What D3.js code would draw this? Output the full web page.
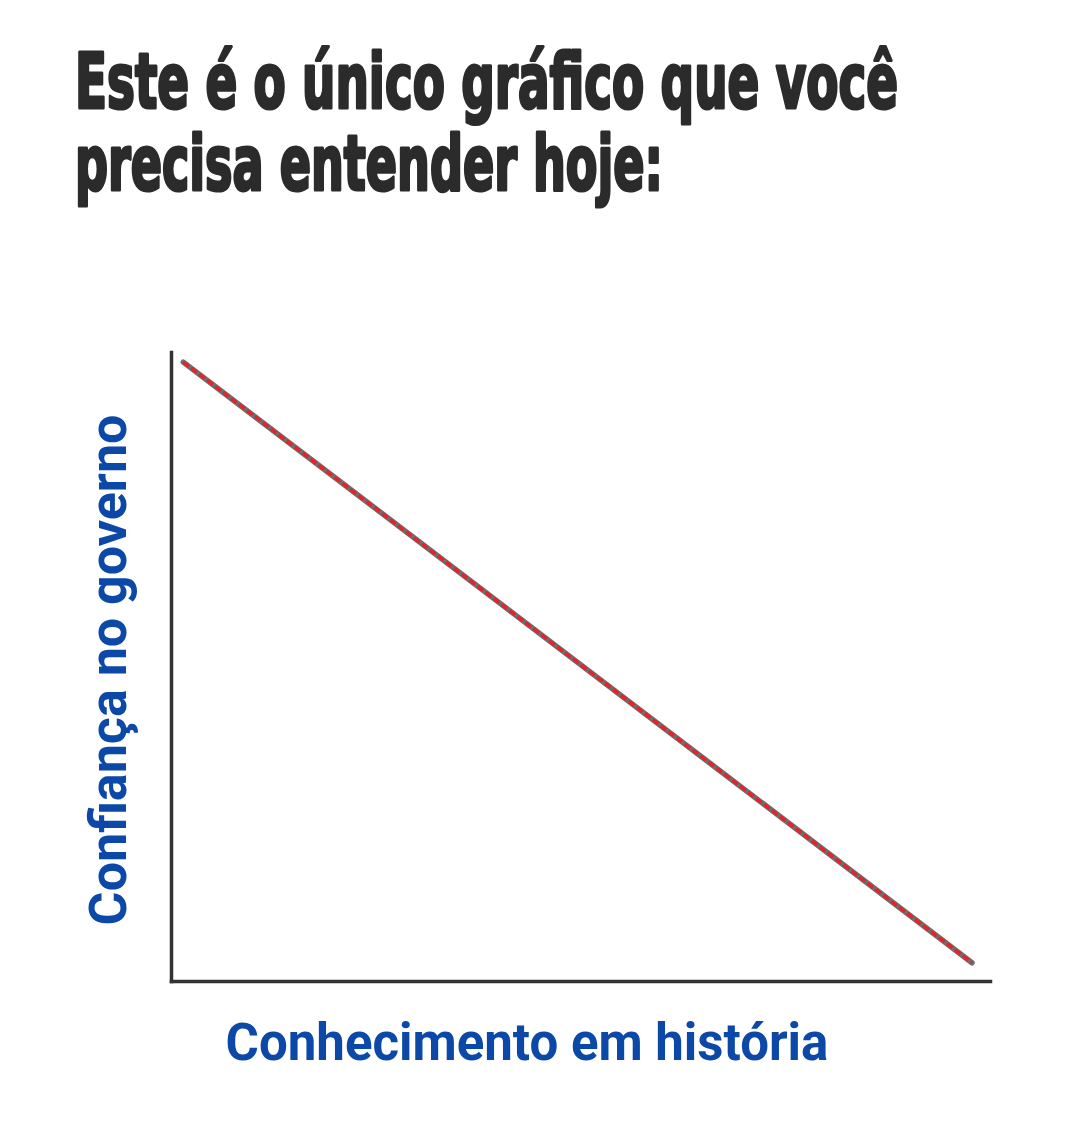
<!DOCTYPE html>
<html>
<head>
<meta http-equiv="Content-Type" content="text/html; charset=utf-8">
<script src="https://cdnjs.cloudflare.com/ajax/libs/d3/7.8.5/d3.min.js"></script>
<style>
  body { margin: 0; background: #fff; }
</style>
</head>
<body>
<div class="chart"></div>
<script type="text/javascript">

    // ------------------------------------------- DATA

    var titleLines = ["Este é o único gráfico que você", "precisa entender hoje:"];
    var xLabel = "Conhecimento em história";
    var yLabel = "Confiança no governo";

    // the one line: start and end
    var knowledge = [1.5, 97.8];
    var confidence = [98.4, 2.9];

    // ------------------------------------------- SVG

    var width = 1080;
    var height = 1136;

    var svg = d3.select("div.chart")
        .append("svg")
        .attr("width", width)
        .attr("height", height)
        .style("display", "block");

    svg.append("rect")
        .attr("width", width)
        .attr("height", height)
        .attr("fill", "#fff");

    // ------------------------------------------- TITLE

    var titleY = [108, 190];
    var titleW = [823, 588];

    titleLines.forEach(function(t, i) {
        svg.append("g")
            .attr("transform", "translate(75," + titleY[i] + ") scale(1,1.32)")
            .append("text")
            .attr("x", 0)
            .attr("y", 0)
            .attr("font-family", "'Liberation Sans Narrow', 'DejaVu Sans Condensed', sans-serif")
            .attr("font-weight", "bold")
            .attr("font-size", 58)
            .attr("fill", "#2b2b2b")
            .attr("stroke", "#2b2b2b")
            .attr("stroke-width", 2.4)
            .attr("stroke-linejoin", "round")
            .attr("textLength", titleW[i])
            .attr("lengthAdjust", "spacingAndGlyphs")
            .text(t);
    });

    // ------------------------------------------- SCALES AND AXES

    var x = d3.scaleLinear().domain([0, 100]).range([171, 990]);
    var y = d3.scaleLinear().domain([0, 100]).range([981, 352]);

    var axisStyle = function(g) {
        g.select(".domain")
            .attr("stroke", "#333")
            .attr("stroke-width", 3.5)
            .attr("stroke-linecap", "square");
        g.selectAll(".tick").remove();
    };

    svg.append("g")
        .attr("transform", "translate(0," + y(0) + ")")
        .call(d3.axisBottom(x).ticks(0).tickSizeOuter(0))
        .call(axisStyle);

    svg.append("g")
        .attr("transform", "translate(" + x(0) + ",0)")
        .call(d3.axisLeft(y).ticks(0).tickSizeOuter(0))
        .call(axisStyle);

    // ------------------------------------------- THE LINE

    var pts = knowledge.map(function(k, i) { return [k, confidence[i]]; });
    var line = d3.line()
        .x(function(d) { return x(d[0]); })
        .y(function(d) { return y(d[1]); });

    svg.append("path")
        .datum(pts)
        .attr("d", line)
        .attr("fill", "none")
        .attr("stroke", "#6e6e6e")
        .attr("stroke-width", 5.5)
        .attr("stroke-linecap", "round");

    svg.append("path")
        .datum(pts)
        .attr("d", line)
        .attr("fill", "none")
        .attr("stroke", "#e3242b")
        .attr("stroke-width", 3.5)
        .attr("stroke-dasharray", "7,3");

    // ------------------------------------------- LABELS

    svg.append("text")
        .attr("x", 527)
        .attr("y", 1060)
        .attr("text-anchor", "middle")
        .attr("font-family", "Roboto, sans-serif")
        .attr("font-weight", "bold")
        .attr("font-size", 51)
        .attr("fill", "#0b48a8")
        .text(xLabel);

    svg.append("text")
        .attr("transform", "translate(126,670) rotate(-90)")
        .attr("text-anchor", "middle")
        .attr("font-family", "Roboto, sans-serif")
        .attr("font-weight", "bold")
        .attr("font-size", 52)
        .attr("fill", "#0b48a8")
        .text(yLabel);

</script>
</body>
</html>
